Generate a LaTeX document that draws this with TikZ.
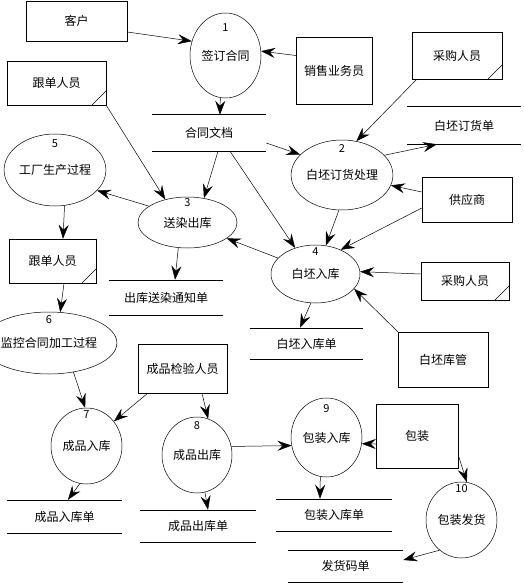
\documentclass[tikz,border=0pt]{standalone}
\usepackage{fontspec}
\setmainfont{Noto Sans CJK SC}
\usetikzlibrary{arrows.meta,shapes.geometric}

\begin{document}
\begin{tikzpicture}[x=1pt,y=-1pt,
  every node/.style={font=\fontsize{12}{14}\selectfont, inner sep=0pt},
  every path/.style={line width=0.5pt},
  ent/.style={draw, rectangle},
  dup/.style={path picture={\draw ([xshift=-14pt]path picture bounding box.south east) -- ([yshift=14pt]path picture bounding box.south east);}},
  proc/.style={draw, ellipse},
  store/.style={append after command={\pgfextra{\draw (\tikzlastnode.north west) -- (\tikzlastnode.north east) (\tikzlastnode.south west) -- (\tikzlastnode.south east);}}},
  lab/.style={anchor=north, font=\fontsize{11}{13}\selectfont},
  flow/.style={-{Stealth[length=14pt,width=10pt,inset=5pt]}}]

\useasboundingbox (0,0) rectangle (524,583);

% External entities
\node[ent, minimum width=101pt, minimum height=40pt] (kehu) at (76.5,21) {客户};
\node[ent, dup, minimum width=99pt, minimum height=44pt] (gendan1) at (56.5,83) {跟单人员};
\node[ent, minimum width=76pt, minimum height=67pt] (xiaoshou) at (334,70.5) {销售业务员};
\node[ent, dup, minimum width=90pt, minimum height=47pt] (caigou1) at (457,55.5) {采购人员};
\node[ent, minimum width=90pt, minimum height=45pt] (gongying) at (467,199.5) {供应商};
\node[ent, dup, minimum width=87pt, minimum height=44pt] (gendan2) at (52.5,261) {跟单人员};
\node[ent, dup, minimum width=88pt, minimum height=38pt] (caigou2) at (465,281) {采购人员};
\node[ent, minimum width=90pt, minimum height=55pt] (kuguan) at (443,359.5) {白坯库管};
\node[ent, minimum width=89pt, minimum height=49pt] (jianyan) at (182.5,368.5) {成品检验人员};
\node[ent, minimum width=82pt, minimum height=64pt] (baozhuang) at (417,436) {包装};

% Processes
\node[proc, minimum width=71pt, minimum height=85pt, label={[lab,yshift=-11pt]north:1}] (p1) at (225.5,55.5) {签订合同};
\node[proc, minimum width=82pt, minimum height=70pt, label={[lab,yshift=-5pt]north:2}] (p2) at (342,175) {白坯订货处理};
\node[proc, minimum width=99pt, minimum height=51pt, label={[lab,yshift=-2pt]north:3}] (p3) at (187.5,222.5) {送染出库};
\node[proc, minimum width=89pt, minimum height=58pt, label={[lab,yshift=-3pt]north:4}] (p4) at (315.5,274) {白坯入库};
\node[proc, minimum width=84pt, minimum height=72pt, label={[lab,yshift=-6pt]north:5}] (p5) at (55,170) {工厂生产过程};
\node[proc, minimum width=96pt, minimum height=62pt, label={[lab,yshift=-4pt]north:6}] (p6) at (49,343) {监控合同加工过程};
\node[proc, minimum width=71pt, minimum height=76pt, label={[lab,yshift=-3pt]north:7}] (p7) at (86.5,446) {成品入库};
\node[proc, minimum width=70pt, minimum height=76pt, label={[lab,yshift=-5pt]north:8}] (p8) at (197,455) {成品出库};
\node[proc, minimum width=71pt, minimum height=79pt, label={[lab,yshift=-7pt]north:9}] (p9) at (326.5,437.5) {包装入库};
\node[proc, minimum width=71pt, minimum height=76pt, label={[lab,yshift=-3pt]north:10}] (p10) at (461.5,520) {包装发货};

% Data stores
\node[store, minimum width=114pt, minimum height=36pt] (hetong) at (209,133) {合同文档};
\node[store, minimum width=114pt, minimum height=37pt] (dinghuo) at (464,125.5) {白坯订货单};
\node[store, minimum width=114pt, minimum height=35pt] (tongzhi) at (166,297.5) {出库送染通知单};
\node[store, minimum width=113pt, minimum height=31pt] (rukudan) at (306.5,343.5) {白坯入库单};
\node[store, minimum width=115pt, minimum height=33pt] (cprkdan) at (64.5,516.5) {成品入库单};
\node[store, minimum width=116pt, minimum height=32pt] (cpckdan) at (198,526) {成品出库单};
\node[store, minimum width=116pt, minimum height=32pt] (bzrkdan) at (334,515) {包装入库单};
\node[store, minimum width=115pt, minimum height=32pt] (fahuo) at (345.5,566) {发货码单};

% Flows
\draw[flow] ([yshift=-11pt]kehu.east) -- (p1.157);
\draw[flow] ([yshift=15pt]xiaoshou.west) -- (p1.7);
\draw[flow] (p1.263) -- ([xshift=11pt]hetong.north);
\draw[flow] (gendan1.south east) -- (p3.134);
\draw[flow] ([xshift=9pt]hetong.south) -- (p3.56);
\draw[flow] ([xshift=21pt]hetong.south) -- (p4.128);
\draw[flow] ([yshift=-10pt]hetong.east) -- (p2.154);
\draw[flow] ([xshift=5pt]caigou1.south west) -- (p2.67);
\draw[flow] (p2.25) -- ([xshift=-27pt]dinghuo.south);
\draw[flow] ([yshift=7.5pt]gongying.west) -- (p2.-12);
\draw[flow] ([yshift=-8.5pt]gongying.west) -- (p4.44);
\draw[flow] (p2.265) -- (p4.70);
\draw[flow] (p4.157) -- (p3.-22);
\draw[flow] (p3.157) -- (p5.-26);
\draw[flow] (p3.250) -- ([xshift=9pt]tongzhi.north);
\draw[flow] (p5.285) -- ([xshift=10.5pt]gendan2.north);
\draw[flow] ([xshift=11.5pt]gendan2.south) -- (p6.70);
\draw[flow] ([yshift=7pt]caigou2.west) -- (p4.3);
\draw[flow] (kuguan.north west) -- (p4.-21);
\draw[flow] (p4.261) -- ([xshift=-6.5pt]rukudan.north);
\draw[flow] (p6.310) -- (p7.92);
\draw[flow] ([xshift=10pt]jianyan.south west) -- (p7.42);
\draw[flow] ([xshift=19.5pt]jianyan.south) -- (p8.73);
\draw[flow] (p7.260) -- ([xshift=3.5pt]cprkdan.north);
\draw[flow] (p8.282) -- ([xshift=10pt]cpckdan.north);
\draw[flow] (p8.14) -- (p9.193);
\draw[flow] ([yshift=-8pt]baozhuang.west) -- (p9.-10);
\draw[flow] ([yshift=-19pt]baozhuang.east) -- (p10.82);
\draw[flow] (p9.261) -- ([xshift=-14pt]bzrkdan.north);
\draw[flow] (p10.234) -- ([yshift=6pt]fahuo.east);

\end{tikzpicture}
\end{document}
